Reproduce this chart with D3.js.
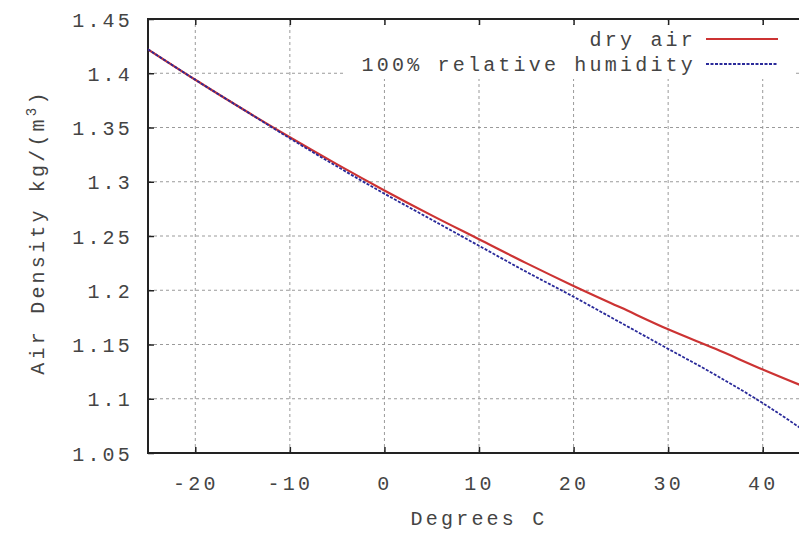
<!DOCTYPE html>
<html>
<head>
<meta charset="utf-8">
<script src="https://cdn.jsdelivr.net/npm/d3@7"></script>
<style>
body { margin: 0; background: #fff; }
svg text { font-family: "Liberation Mono", "DejaVu Sans Mono", monospace; fill: #444; letter-spacing: 3.2px; }
</style>
</head>
<body>
<div id="chart"></div>
<script>

// values
const temps = [-25, -20, -15, -10, -5, 0, 5, 10, 15, 20, 25, 30, 35, 40, 45]
const dryAir = [1.422, 1.394, 1.367, 1.341, 1.316, 1.292, 1.269, 1.247, 1.225, 1.204, 1.184, 1.164, 1.146, 1.127, 1.109]
const humidAir = [1.422, 1.394, 1.367, 1.340, 1.314, 1.289, 1.265, 1.241, 1.217, 1.194, 1.170, 1.146, 1.122, 1.096, 1.067]
const xTicks = [-20, -10, 0, 10, 20, 30, 40]
const yTicks = [1.05, 1.1, 1.15, 1.2, 1.25, 1.3, 1.35, 1.4, 1.45]
const seriesNames = ["dry air", "100% relative humidity"]

const width = 799
const height = 534

const x = d3.scaleLinear().domain([-25, 45]).range([148, 810])
const y = d3.scaleLinear().domain([1.05, 1.45]).range([453, 19])

const svg = d3.select('#chart').append('svg').attr("width", width).attr("height", height)

svg.append('clipPath').attr("id", "plotClip")
    .append('rect')
    .attr("x", x(-25)).attr("y", y(1.45))
    .attr("width", x(45) - x(-25)).attr("height", y(1.05) - y(1.45))

// grid
svg.append('g').selectAll('line')
    .data(xTicks)
    .enter().append('line')
    .attr("x1", d => x(d)).attr("x2", d => x(d))
    .attr("y1", y(1.05)).attr("y2", y(1.45))
    .attr("stroke", "#9a9a9a").attr("stroke-width", 1).attr("stroke-dasharray", "3 3")

svg.append('g').selectAll('line')
    .data(yTicks.filter(d => d > 1.05 && d < 1.45))
    .enter().append('line')
    .attr("x1", x(-25)).attr("x2", x(45))
    .attr("y1", d => y(d)).attr("y2", d => y(d))
    .attr("stroke", "#9a9a9a").attr("stroke-width", 1).attr("stroke-dasharray", "3 3")

// axes (gnuplot style, ticks pointing in)
const axisB = d3.axisBottom(x).tickValues(xTicks).tickSize(-6)
const gx = svg.append('g').attr("transform", `translate(0,${y(1.05)})`).call(axisB)
gx.select(".domain").remove()
gx.selectAll(".tick line").attr("stroke", "#222").attr("stroke-width", 1.5)
gx.selectAll("text").attr("y", 37).attr("dy", 0).attr("font-size", 20).attr("fill", "#444")
    .text(d => String(d))

const axisT = d3.axisTop(x).tickValues(xTicks).tickSize(-6).tickFormat("")
const gt = svg.append('g').attr("transform", `translate(0,${y(1.45)})`).call(axisT)
gt.select(".domain").remove()
gt.selectAll(".tick line").attr("stroke", "#222").attr("stroke-width", 1.5)

const axisL = d3.axisLeft(y).tickValues(yTicks).tickSize(-6).tickFormat(d => String(+d.toFixed(2)))
const gy = svg.append('g').attr("transform", `translate(${x(-25)},0)`).call(axisL)
gy.select(".domain").remove()
gy.selectAll(".tick line").attr("stroke", "#222").attr("stroke-width", 1.5)
gy.selectAll("text").attr("x", -15).attr("dy", "0.36em").attr("font-size", 20).attr("fill", "#444")

// border
svg.append('path')
    .attr("d", `M${x(45)},${y(1.05)}H${x(-25)}V${y(1.45)}H${x(45)}`)
    .attr("fill", "none").attr("stroke", "#222").attr("stroke-width", 2)

// curves
const line = d3.line()
    .x((d, i) => x(temps[i]))
    .y(d => y(d))
    .curve(d3.curveMonotoneX)

svg.append('path')
    .datum(dryAir)
    .attr("d", line)
    .attr("clip-path", "url(#plotClip)")
    .attr("fill", "none").attr("stroke", "#cc3333").attr("stroke-width", 2.2)

svg.append('path')
    .datum(humidAir)
    .attr("d", line)
    .attr("clip-path", "url(#plotClip)")
    .attr("fill", "none").attr("stroke", "#2a2a9a").attr("stroke-width", 1.8).attr("stroke-dasharray", "3 1.5")

// legend
svg.append('rect')
    .attr("x", 345).attr("y", 25).attr("width", 448).attr("height", 54)
    .attr("fill", "#fff")

const legendRows = [
    { name: seriesNames[0], color: "#cc3333", dash: null, w: 2.2 },
    { name: seriesNames[1], color: "#2a2a9a", dash: "3 1.5", w: 1.8 }
]

legendRows.forEach(function (row, i) {
    const ly = 39 + i * 25
    svg.append('text')
        .attr("x", 696).attr("y", ly + 7)
        .attr("text-anchor", "end").attr("font-size", 20)
        .text(row.name)
    svg.append('line')
        .attr("x1", 706).attr("x2", 778)
        .attr("y1", ly).attr("y2", ly)
        .attr("stroke", row.color).attr("stroke-width", row.w)
        .attr("stroke-dasharray", row.dash)
})

// axis titles
svg.append('text')
    .attr("x", x(10)).attr("y", 525)
    .attr("text-anchor", "middle").attr("font-size", 20)
    .text("Degrees C")

const yTitle = svg.append('text')
    .attr("transform", "translate(44,232) rotate(-90)")
    .attr("text-anchor", "middle").attr("font-size", 20)
yTitle.append('tspan').text("Air Density  kg/(m")
yTitle.append('tspan').attr("baseline-shift", "super").attr("font-size", 14).text("3")
yTitle.append('tspan').text(")")

</script>
</body>
</html>
